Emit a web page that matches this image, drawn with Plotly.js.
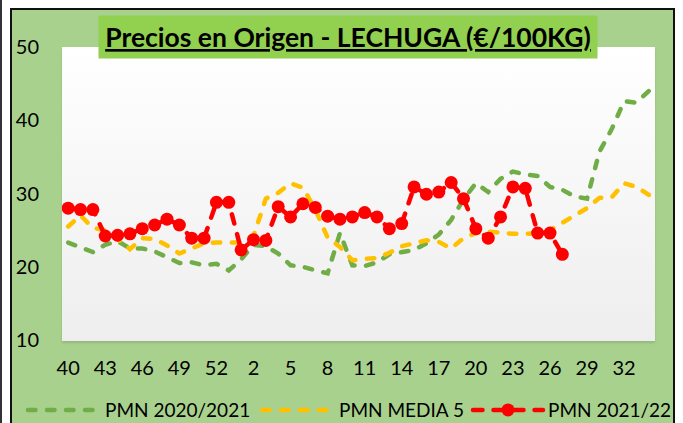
<!DOCTYPE html>
<html>
<head>
<meta charset="utf-8">
<script src="https://cdn.plot.ly/plotly-3.0.1.min.js"></script>
<style>
html,body{margin:0;padding:0;background:#fff;width:683px;height:423px;overflow:hidden;}
#lline{position:absolute;left:0;top:0;width:2px;height:423px;background:#333;}
#frame{position:absolute;left:10px;top:8px;width:665px;height:430px;border:2px solid #111;box-sizing:border-box;background:#a9d18e;}
#pbg{position:absolute;left:62px;top:47px;width:593px;height:294px;background:linear-gradient(#ffffff,#eeeeee);box-shadow:0 2px 2px rgba(0,0,0,0.12);}
#chart{position:absolute;left:0;top:0;width:740px;height:460px;}
.js-line{stroke-linecap:round;}
</style>
</head>
<body>
<div id="lline"></div>
<div id="frame"></div>
<div id="pbg"></div>
<div id="chart"></div>
<script>
// Week numbers (campaign from week 40 to week 34 of next year)
const weeks = [40,41,42,43,44,45,46,47,48,49,50,51,52,53,
  1,2,3,4,5,6,7,8,9,10,11,12,13,14,15,16,17,18,19,20,
  21,22,23,24,25,26,27,28,29,30,31,32,33,34];

// PMN 2020/2021 (green)
const pmn2020 = [23.3,22.7,22.0,23.0,23.5,22.5,22.5,22.1,21.3,20.5,20.6,20.2,20.4,19.5,
  21.0,23.0,22.8,21.8,20.2,20.0,19.5,19.1,24.6,20.2,20.1,20.6,21.7,22.0,22.3,23.2,
  24.4,26.4,29.2,31.4,30.2,32.0,33.0,32.6,32.4,30.9,30.5,29.6,29.3,35.7,38.8,42.6,42.4,44.0];

// PMN MEDIA 5 (yellow)
const media5 = [25.5,27.0,25.3,25.0,23.8,22.4,23.9,23.8,22.9,21.8,22.5,23.2,23.3,23.3,
  23.3,24.2,29.3,30.1,31.4,30.8,27.8,24.0,22.7,20.9,21.0,21.2,21.9,22.8,23.2,23.6,
  23.4,22.5,23.9,24.6,24.8,24.6,24.5,24.5,24.6,25.0,26.0,27.1,28.0,29.4,29.5,31.4,30.9,29.8];

// PMN 2021/22 (red)
const pmn2021 = [28.0,27.8,27.8,24.2,24.3,24.5,25.2,25.7,26.5,25.7,23.9,23.9,28.8,28.8,
  22.3,23.7,23.6,28.2,26.8,28.6,28.1,26.9,26.5,26.8,27.4,26.8,25.2,25.9,30.9,29.9,
  30.2,31.5,29.3,25.2,23.9,26.8,30.9,30.7,24.6,24.6,21.7];

const seriesNames = ['PMN 2020/2021','PMN MEDIA 5','PMN 2021/22'];
const titleText = 'Precios en Origen - LECHUGA (€/100KG)';

const xIdx = weeks.map((w,i)=>i);
const tickIdx = xIdx.filter(i=>i%3===0);
const tickTxt = tickIdx.map(i=>String(weeks[i]));

const traces = [
  {x:xIdx.slice(0,pmn2020.length), y:pmn2020, name:seriesNames[0], type:'scatter', mode:'lines',
   legend:'legend',
   line:{color:'#70ad47', width:4.5, dash:'7.5px,11.5px'}},
  {x:xIdx.slice(0,media5.length), y:media5, name:seriesNames[1], type:'scatter', mode:'lines',
   legend:'legend2',
   line:{color:'#ffc000', width:4.5, dash:'7.5px,11.5px'}},
  {x:xIdx.slice(0,pmn2021.length), y:pmn2021, name:seriesNames[2], type:'scatter', mode:'lines+markers',
   legend:'legend3',
   line:{color:'#ff0000', width:4.5, dash:'9.5px,11px'},
   marker:{color:'#ff0000', size:13, symbol:'circle'}}
];

function leg(xpx, iw){
  return {orientation:'h', x:(xpx-62)/593, xanchor:'left', y:-0.239, yanchor:'middle',
    itemwidth:iw, bgcolor:'rgba(0,0,0,0)', font:{size:19, color:'#000'}};
}

const layout = {
  width:740, height:460,
  margin:{l:62, r:85, t:47, b:120, pad:0},
  paper_bgcolor:'rgba(0,0,0,0)',
  plot_bgcolor:'rgba(0,0,0,0)',
  font:{family:'Lato, "Open Sans", sans-serif', color:'#000', size:19},
  showlegend:true,
  xaxis:{range:[-0.5, weeks.length-0.5], tickmode:'array', tickvals:tickIdx, ticktext:tickTxt,
    showgrid:false, zeroline:false, showline:false, ticks:'', ticklabelstandoff:14,
    tickfont:{size:20, color:'#000'}, fixedrange:true, automargin:false},
  yaxis:{range:[10,50], dtick:10, tick0:10, showgrid:false, zeroline:false, showline:false,
    ticks:'', ticklabelstandoff:22, tickfont:{size:20, color:'#000'}, fixedrange:true, automargin:false},
  legend:leg(23, 72),
  legend2:leg(257, 72),
  legend3:leg(468, 70),
  annotations:[{text:'<b><u>'+titleText+'</u></b>', xref:'paper', yref:'paper',
    x:0.4823, y:1.0358, xanchor:'center', yanchor:'middle', showarrow:false,
    bgcolor:'#92d050', width:496, height:40, valign:'middle', align:'center',
    font:{size:26.5, color:'#000', family:'Lato, sans-serif'}}]
};

Plotly.newPlot('chart', traces, layout, {displayModeBar:false, staticPlot:true});
</script>
</body>
</html>
